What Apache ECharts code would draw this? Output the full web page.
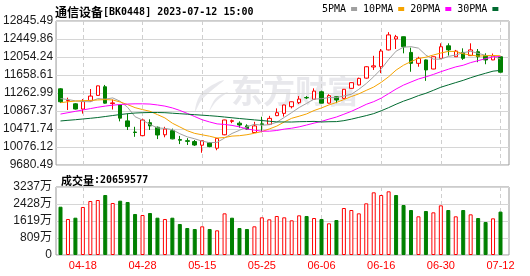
<!DOCTYPE html>
<html><head><meta charset="utf-8">
<script src="https://cdn.jsdelivr.net/npm/echarts@6/dist/echarts.min.js"></script>
<style>html,body{margin:0;padding:0;background:#fff}#c{width:530px;height:276px}</style>
</head><body><div id="c"></div>
<script>
const dates = ['04-13','04-14','04-17','04-18','04-19','04-20','04-21','04-24','04-25','04-26','04-27','04-28',
 '05-04','05-05','05-08','05-09','05-10','05-11','05-12','05-15','05-16','05-17','05-18','05-19','05-22','05-23','05-24','05-25','05-26','05-29','05-30','05-31',
 '06-01','06-02','06-05','06-06','06-07','06-08','06-09','06-12','06-13','06-14','06-15','06-16','06-19','06-20','06-21','06-26','06-27','06-28','06-29','06-30',
 '07-03','07-04','07-05','07-06','07-07','07-10','07-11','07-12'];
const openP = [11355,11090,11025,10910,11090,11210,11400,11030,11000,10650,10405,10325,10610,10510,10345,10435,10240,10215,10195,10115,
 10170,10050,10345,10640,10600,10540,10395,10585,10575,10765,10815,10962,11050,11165,11125,11290,11040,11180,11145,11365,
 11440,11590,11835,11840,12210,12450,12500,12155,11915,11990,11790,12025,12300,12060,12155,12085,12170,12085,11990,12060];
const closeP = [11070,11100,10910,11075,11195,11420,11040,11045,10710,10525,10395,10670,10540,10340,10470,10255,10225,10200,10120,10215,
 10085,10265,10670,10655,10560,10470,10540,10570,10705,10830,11000,11070,11130,11155,11305,11040,11205,11110,11345,11490,
 11585,11840,11860,12185,12540,12500,12280,11915,12025,11770,12060,12280,12210,12185,12025,12210,12060,11990,12080,11720];
const lowP = [11045,10890,10900,10810,11075,11205,11030,10900,10640,10450,10300,10320,10450,10250,10290,10245,10140,10120,10100,9950,
 10070,10005,10335,10600,10500,10455,10385,10400,10560,10755,10745,10925,11020,11130,11120,11035,11030,11040,11140,11360,
 11430,11580,11770,11700,12200,12230,12135,11730,11840,11530,11785,12020,12085,12055,11990,12080,11940,11895,11985,11715];
const highP = [11370,11160,11040,11130,11350,11425,11440,11120,11010,10815,10520,10700,10685,10525,10520,10480,10320,10270,10230,10225,
 10185,10270,10675,10680,10640,10575,10630,10740,10760,10925,11005,11075,11195,11195,11365,11315,11235,11185,11350,11495,
 11600,11850,12080,12230,12600,12540,12505,12260,12060,12000,12065,12355,12355,12210,12245,12355,12230,12135,12130,12065];
const volume = [2299,1714,1776,2285,2571,2618,2856,2475,2585,2523,1952,1904,1999,1776,1714,1776,1476,1285,1238,1365,
 1238,1174,1983,1776,1285,1238,1365,1794,1699,1857,1794,1651,1889,1857,1761,1714,1508,1666,2237,2142,
 1983,2459,2984,2856,3031,2856,2380,2142,1841,2095,2031,2364,2142,1841,2142,1936,1761,1571,1745,2066];
const volUp = [0,1,0,1,1,1,0,1,0,0,0,1,0,0,1,0,0,0,0,1, 0,1,1,0,0,0,1,1,1,1,1,1,1,0,1,0,1,0,1,1, 1,1,1,1,1,0,0,0,1,0,1,1,0,1,0,1,0,0,1,0];
const ma5 = [11140,11120,11090,11075,11070,11140,11128,11155,11082,10948,10742,10668,10570,10496,10485,10457,10368,10300,10256,10205,
 10171,10179,10273,10374,10443,10520,10575,10555,10566,10620,10726,10832,10944,11034,11129,11137,11164,11160,11198,11235,
 11344,11471,11621,11789,11999,12182,12270,12281,12249,12095,12007,12007,12066,12098,12149,12179,12135,12091,12070,12009];
const ma10 = [11050,11070,11085,11095,11100,11110,11118,11110,11065,11008,10941,10898,10861,10788,10715,10599,10517,10434,10375,10344,
 10313,10273,10285,10316,10325,10346,10378,10415,10473,10535,10626,10707,10753,10803,10878,10935,11001,11055,11119,11185,
 11244,11321,11394,11497,11620,11766,11874,11954,12022,12050,12098,12142,12177,12177,12125,12096,12074,12082,12087,12082];
const ma20 = [10800,10830,10860,10890,10920,10950,10975,10995,11010,11020,11025,11025,11020,11000,10975,10935,10880,10815,10745,10675,
 10626,10584,10572,10551,10519,10472,10447,10424,10424,10439,10469,10489,10519,10559,10601,10640,10689,10735,10796,10860,
 10935,11014,11073,11150,11249,11350,11437,11505,11571,11618,11671,11731,11785,11837,11873,11931,11974,12018,12055,12066];
const ma30 = [10648,10663,10676,10692,10707,10724,10746,10768,10790,10808,10823,10830,10834,10834,10830,10819,10808,10797,10786,10775,
 10764,10751,10735,10718,10702,10687,10672,10658,10642,10628,10626,10625,10632,10635,10639,10626,10632,10634,10655,10688,
 10727,10766,10810,10872,10941,11016,11084,11141,11205,11257,11322,11390,11441,11492,11541,11599,11650,11697,11743,11760];
const yLabels = ['9680.49','10076.12','10471.74','10867.37','11262.99','11658.61','12054.24','12449.86','12845.49'];
const volLabels = ['0','809万','1619万','2428万','3237万'];
const titleName = '通信设备';
const titleCode = '[BK0448] 2023-07-12 15:00';
const volTitle = '成交量';
const lastVolume = '20659577';

const yMin = 9680.49, yMax = 12845.49, yStep = (yMax - yMin) / 8;
const vMax = 3237, vStep = vMax / 4;
const RED = '#ff0000', GREEN = '#008000';
const markIdx = (i) => (i - 3) % 8 === 0;
const mono = "'DejaVu Sans Mono', monospace";
const cjk = "'Noto Sans CJK SC', sans-serif";
const sans = "'Liberation Sans', Arial, 'Noto Sans CJK SC', sans-serif";
const wm = 'rgba(185,185,195,0.32)';

const chart = echarts.init(document.getElementById('c'), null, {renderer: 'canvas'});
chart.setOption({
  animation: false,
  textStyle: {fontFamily: sans},
  title: [
    {left: 50, top: 1, text: '{c|' + titleName + '}{a|' + titleCode + '}',
     textStyle: {rich: {c: {fontFamily: cjk, fontSize: 12, color: '#000'}, a: {fontFamily: mono, fontSize: 10, color: '#000'}}}},
    {left: 56, top: 170, text: '{c|' + volTitle + '}{a|:' + lastVolume + '}',
     textStyle: {rich: {c: {fontFamily: cjk, fontSize: 11, color: '#000'}, a: {fontFamily: mono, fontSize: 10, color: '#000'}}}}
  ],
  legend: {left: 322, top: 4, itemGap: 6, itemWidth: 6, itemHeight: 4, icon: 'rect', align: 'right',
    selectedMode: false, padding: 0,
    textStyle: {fontFamily: mono, fontSize: 10, color: '#000'},
    data: ['5PMA', '10PMA', '20PMA', '30PMA']},
  graphic: [
    {type: 'text', left: 231, top: 75, z: 0, silent: true,
     style: {text: '东方财富', font: 'bold 32px "Noto Sans CJK SC"', fill: wm}},
    {type: 'polygon', z: 0, silent: true,
     shape: {points: [[224, 80], [209, 87], [199, 97], [195, 112], [201, 101], [211, 91]], smooth: 0.4}, style: {fill: wm}},
    {type: 'polygon', z: 0, silent: true,
     shape: {points: [[228, 92], [216, 98], [209, 112], [214, 104], [220, 98]], smooth: 0.4}, style: {fill: wm}}
  ],
  grid: [
    {left: 56, top: 21, width: 453, height: 144, show: true, borderColor: '#999', borderWidth: 1, backgroundColor: 'transparent'},
    {left: 60.5, top: 21, width: 440, height: 144},
    {left: 56, top: 187, width: 453, height: 68, show: true, borderColor: '#999', borderWidth: 1, backgroundColor: 'transparent'},
    {left: 60.5, top: 187, width: 440, height: 68}
  ],
  xAxis: [
    {gridIndex: 0, type: 'value', min: 0, max: 1, show: false},
    {gridIndex: 1, type: 'category', data: dates, boundaryGap: false,
     axisLine: {show: false}, axisTick: {show: false}, axisLabel: {show: false},
     splitLine: {show: true, interval: (i) => markIdx(i), lineStyle: {color: '#cfcfcf', type: [4, 3]}}},
    {gridIndex: 2, type: 'value', min: 0, max: 1, show: false},
    {gridIndex: 3, type: 'category', data: dates, boundaryGap: false,
     axisLine: {show: false}, axisTick: {show: false},
     axisLabel: {show: true, interval: (i) => markIdx(i), color: RED, fontSize: 11, margin: 5, fontFamily: sans},
     splitLine: {show: true, interval: (i) => markIdx(i), lineStyle: {color: '#cfcfcf', type: [4, 3]}}}
  ],
  yAxis: [
    {gridIndex: 0, type: 'value', min: yMin, max: yMax, interval: yStep,
     axisLine: {show: false}, axisTick: {show: false},
     axisLabel: {margin: 3, fontSize: 12, color: '#1a1a1a', formatter: (v) => yLabels[Math.round((v - yMin) / yStep)]},
     splitLine: {show: true, lineStyle: {color: '#d6d6d6'}}},
    {gridIndex: 1, type: 'value', min: yMin, max: yMax, show: false, splitLine: {show: false}},
    {gridIndex: 2, type: 'value', min: 0, max: vMax, interval: vStep,
     axisLine: {show: false}, axisTick: {show: false},
     axisLabel: {margin: 4, fontSize: 12, color: '#1a1a1a', formatter: (v) => volLabels[Math.round(v / vStep)]},
     splitLine: {show: true, lineStyle: {color: '#d6d6d6'}}},
    {gridIndex: 3, type: 'value', min: 0, max: vMax, show: false, splitLine: {show: false}}
  ],
  series: [
    {type: 'candlestick', name: 'K', xAxisIndex: 1, yAxisIndex: 1, barWidth: 4, clip: false,
     data: dates.map((d, i) => [openP[i], closeP[i], lowP[i], highP[i]]),
     itemStyle: {color: '#ffffff', color0: GREEN, borderColor: RED, borderColor0: GREEN, borderWidth: 1}},
    {type: 'line', name: '5PMA', xAxisIndex: 1, yAxisIndex: 1, data: ma5, symbol: 'none', clip: false,
     color: '#a0a0a0', itemStyle: {color: '#a0a0a0'}, lineStyle: {width: 1, color: '#a0a0a0'}},
    {type: 'line', name: '10PMA', xAxisIndex: 1, yAxisIndex: 1, data: ma10, symbol: 'none', clip: false,
     color: '#f5a300', itemStyle: {color: '#f5a300'}, lineStyle: {width: 1, color: '#f5a300'}},
    {type: 'line', name: '20PMA', xAxisIndex: 1, yAxisIndex: 1, data: ma20, symbol: 'none', clip: false,
     color: '#ff00ff', itemStyle: {color: '#ff00ff'}, lineStyle: {width: 1, color: '#ff00ff'}},
    {type: 'line', name: '30PMA', xAxisIndex: 1, yAxisIndex: 1, data: ma30, symbol: 'none', clip: false,
     color: '#006a30', itemStyle: {color: '#006a30'}, lineStyle: {width: 1, color: '#006a30'}},
    {type: 'bar', name: 'VOL', xAxisIndex: 3, yAxisIndex: 3, barWidth: 4, clip: false,
     data: volume.map((v, i) => ({value: v, itemStyle: volUp[i]
        ? {color: '#ffffff', borderColor: RED, borderWidth: 1}
        : {color: GREEN, borderColor: GREEN, borderWidth: 1}}))}
  ]
});
</script>
</body></html>
